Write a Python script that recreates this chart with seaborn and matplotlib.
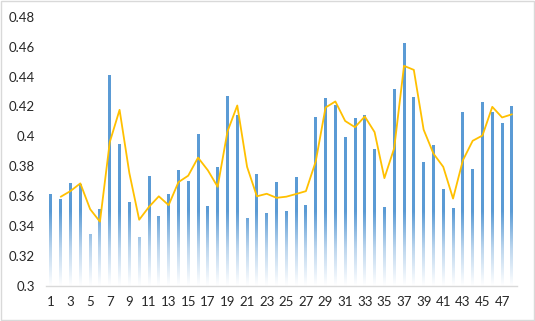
import numpy as np
import pandas as pd
import matplotlib
matplotlib.use('Agg')
import matplotlib.pyplot as plt
import seaborn as sns
from matplotlib.colors import LinearSegmentedColormap, Normalize
from matplotlib.patches import Rectangle

# ---------------------------
# Data
# ---------------------------
periods = list(range(1, 49))
values = [0.3613, 0.3580, 0.3690, 0.3682, 0.3345, 0.3515, 0.4408, 0.3947,
          0.3561, 0.3325, 0.3733, 0.3466, 0.3615, 0.3773, 0.3702, 0.4014,
          0.3533, 0.3793, 0.4272, 0.4141, 0.3452, 0.3747, 0.3486, 0.3693,
          0.3501, 0.3729, 0.3539, 0.4127, 0.4259, 0.4208, 0.3998, 0.4125,
          0.4141, 0.3916, 0.3526, 0.4317, 0.4626, 0.4263, 0.3827, 0.3943,
          0.3650, 0.3519, 0.4161, 0.3780, 0.4232, 0.4163, 0.4090, 0.4205]
y_ticks = [0.3, 0.32, 0.34, 0.36, 0.38, 0.4, 0.42, 0.44, 0.46, 0.48]
y_tick_labels = ['0.3', '0.32', '0.34', '0.36', '0.38', '0.4', '0.42', '0.44', '0.46', '0.48']

df = pd.DataFrame({'period': periods, 'value': values})
# 2-period moving average trendline
df['ma'] = df['value'].rolling(2).mean()

# ---------------------------
# Style
# ---------------------------
sns.set_style('white')
plt.rcParams['font.family'] = ['Lato', 'DejaVu Sans']

fig = plt.figure(figsize=(5.35, 3.21), dpi=100)
ax = fig.add_axes([0.086, 0.109, 0.880, 0.839])

blue = '#5B9BD5'
sns.barplot(data=df, x='period', y='value', color=blue, width=0.3,
            ax=ax, zorder=2)

# gradient fill: solid blue fading to white near the axis
cmap = LinearSegmentedColormap.from_list('fade', ['#ffffff', '#bcd6ee', blue])
norm = Normalize(vmin=0.30, vmax=0.35, clip=True)
for patch in ax.patches:
    x0 = patch.get_x()
    w = patch.get_width()
    top = patch.get_height()
    grad = np.linspace(top, 0.3, 200)[:, None]
    im = ax.imshow(grad, extent=[x0, x0 + w, 0.3, top], aspect='auto',
                   cmap=cmap, norm=norm, origin='upper', zorder=2,
                   interpolation='bilinear')
    im.set_clip_path(patch)
    patch.set_facecolor('none')
    patch.set_edgecolor('none')

sns.lineplot(x=np.arange(len(df)), y=df['ma'].values, color='#FFC000',
             linewidth=1.3, ax=ax, zorder=3)

ax.set_xlim(-0.5, len(df) - 0.5)
ax.set_ylim(0.3, 0.48)
ax.set_yticks(y_ticks)
ax.set_yticklabels(y_tick_labels)
ax.set_xticks(np.arange(0, len(df), 2))
ax.set_xticklabels([str(p) for p in periods[::2]])
ax.set_xlabel('')
ax.set_ylabel('')

ax.tick_params(axis='both', length=0, labelsize=9.5, colors='#262626')
ax.tick_params(axis='y', pad=8)
ax.tick_params(axis='x', pad=7)
for s in ['left', 'top', 'right']:
    ax.spines[s].set_visible(False)
ax.spines['bottom'].set_color('#d9d9d9')
ax.spines['bottom'].set_linewidth(1)

# chart border
fig.patches.append(Rectangle((0.001, 0.002), 0.997, 0.995,
                             transform=fig.transFigure, fill=False,
                             edgecolor='#d9d9d9', linewidth=1))

plt.savefig('out.png', dpi=100)
